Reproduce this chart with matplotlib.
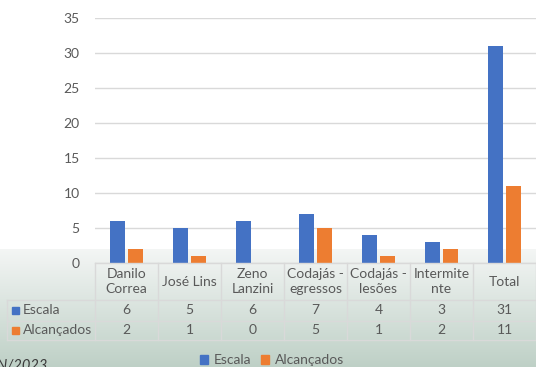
import matplotlib.pyplot as plt
import numpy as np
from matplotlib.patches import Rectangle

# Data
categories = ["Danilo\nCorrea", "José Lins", "Zeno\nLanzini", "Codajás -\negressos",
              "Codajás -\nlesões", "Intermite\nnte", "Total"]
escala = [6, 5, 6, 7, 4, 3, 31]
alcancados = [2, 1, 0, 5, 1, 2, 11]
series_names = ["Escala", "Alcançados"]
yticks = [0, 5, 10, 15, 20, 25, 30, 35]

blue = "#4472C4"
orange = "#ED7D31"
grid_c = "#D9D9D9"
text_c = "#595959"
fs = 10

plt.rcParams["font.family"] = ["Lato", "DejaVu Sans"]

W, H = 536, 367
fig = plt.figure(figsize=(W / 100, H / 100), dpi=100)


def fx(px):
    return px / W


def fy(py):
    return 1 - py / H


# Background: white chart area, slide gradient below
bg = fig.add_axes([0, 0, 1, 1], zorder=-10)
bg.set_axis_off()
top_c = np.array([244, 246, 245]) / 255
bot_c = np.array([190, 208, 198]) / 255
img = np.ones((H, 1, 3))
for i in range(H):
    if i > 248:
        t = (i - 248) / (H - 248)
        img[i, 0] = top_c + (bot_c - top_c) * t
bg.imshow(img, aspect="auto", extent=[0, 1, 0, 1])
bg.set_xlim(0, 1)
bg.set_ylim(0, 1)

# Main axes
left, right, y0, y35 = 95, 536, 263, 18
ax = fig.add_axes([fx(left), fy(y0), fx(right - left), fy(y35) - fy(y0)])
ax.patch.set_alpha(0)
x = np.arange(len(categories))
w = 0.225
off = 0.142
ax.bar(x - off, escala, w, color=blue, zorder=3)
ax.bar(x + off, alcancados, w, color=orange, zorder=3)
ax.set_xlim(-0.5, len(categories) - 0.5)
ax.set_ylim(0, 35)
ax.set_yticks(yticks)
ax.yaxis.grid(True, color=grid_c, linewidth=1)
ax.set_axisbelow(True)
for s in ax.spines.values():
    s.set_visible(False)
ax.tick_params(axis="y", length=0, pad=11, labelsize=fs, labelcolor=text_c)
ax.tick_params(axis="x", length=0, labelbottom=False)

# Data table
col_edges = [left + i * (right - left) / len(categories) for i in range(len(categories) + 1)]
row_y = [263, 300, 320.5, 340]
lab_left = 7
lk = dict(color=grid_c, linewidth=1, transform=fig.transFigure)
fig.add_artist(plt.Line2D([fx(left), fx(right)], [fy(row_y[0])] * 2, **lk))
for yy in row_y[1:]:
    fig.add_artist(plt.Line2D([fx(lab_left), fx(right)], [fy(yy)] * 2, **lk))
for xe in col_edges:
    fig.add_artist(plt.Line2D([fx(xe)] * 2, [fy(row_y[0]), fy(row_y[-1])], **lk))
fig.add_artist(plt.Line2D([fx(lab_left)] * 2, [fy(row_y[1]), fy(row_y[-1])], **lk))

for i, cat in enumerate(categories):
    cx = (col_edges[i] + col_edges[i + 1]) / 2
    fig.text(fx(cx), fy((row_y[0] + row_y[1]) / 2), cat, ha="center", va="center",
             fontsize=fs, color=text_c, linespacing=1.3)
    fig.text(fx(cx), fy((row_y[1] + row_y[2]) / 2), str(escala[i]), ha="center",
             va="center", fontsize=fs, color=text_c)
    fig.text(fx(cx), fy((row_y[2] + row_y[3]) / 2), str(alcancados[i]), ha="center",
             va="center", fontsize=fs, color=text_c)

for j, (name, col) in enumerate(zip(series_names, [blue, orange])):
    yc = (row_y[1 + j] + row_y[2 + j]) / 2
    fig.add_artist(Rectangle((fx(12), fy(yc + 3.5)), fx(7), fy(yc - 3.5) - fy(yc + 3.5),
                             color=col, transform=fig.transFigure))
    fig.text(fx(23), fy(yc), name, ha="left", va="center", fontsize=fs, color=text_c)

# Bottom legend
handles = [Rectangle((0, 0), 1, 1, color=c) for c in [blue, orange]]
fig.legend(handles, series_names, loc="center", bbox_to_anchor=(fx(272), fy(360)),
           ncol=2, frameon=False, fontsize=fs, labelcolor=text_c, handlelength=0.6,
           handleheight=0.6, handletextpad=0.4, columnspacing=0.7)

# Slide footer text, cut off at the bottom edge as in the screenshot
fig.text(fx(48), fy(370), "JUN/2023", ha="right", va="baseline", fontsize=10.5,
         color="#3a3a3a", style="italic")

fig.savefig("out.png", dpi=100)
